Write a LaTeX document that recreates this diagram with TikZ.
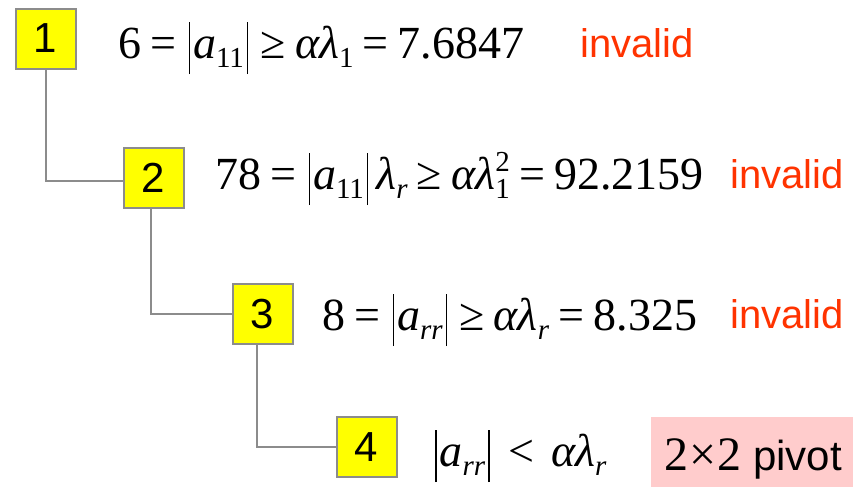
\documentclass[tikz,border=0pt]{standalone}
\usepackage{fontspec}
\setmainfont{Liberation Serif}
\newfontfamily\arialf{Liberation Sans}
\definecolor{boxyellow}{HTML}{FFFF00}
\definecolor{linegray}{HTML}{8C8C8C}
\definecolor{invred}{HTML}{FF3300}
\definecolor{pivotpink}{HTML}{FFCCCC}
\newcommand\mathsz{\fontsize{46}{50}\selectfont}
\newcommand\absb{\kern3pt\vrule width 1.5pt height 36pt depth 16pt\kern3pt}
\newcommand\subs[1]{\raisebox{-9pt}{\fontsize{29}{30}\selectfont #1}}
\newcommand\sups[1]{\raisebox{18pt}{\fontsize{29}{30}\selectfont #1}}
\newcommand\rel[1]{\hspace{0.2em}#1\hspace{0.2em}}
\newcommand\ita[1]{\textit{#1}}
\tikzset{
  stepbox/.style={draw=linegray, line width=2pt, fill=boxyellow, minimum size=60pt,
    inner sep=0pt, font=\arialf\fontsize{42}{44}\selectfont},
  conn/.style={draw=linegray, line width=2pt},
  eqn/.style={anchor=base west, inner sep=0pt, font=\mathsz},
  inv/.style={anchor=base west, inner sep=0pt, text=invred, font=\arialf\fontsize{40}{42}\selectfont},
}
\begin{document}
\begin{tikzpicture}[x=1pt,y=-1pt]
\useasboundingbox (0,0) rectangle (853,488);
\node[stepbox] (b1) at (45.5,38.5) {1};
\node[stepbox] (b2) at (153.5,177.5) {2};
\node[stepbox] (b3) at (262.5,314) {3};
\node[stepbox] (b4) at (366.5,447) {4};
\draw[conn] (b1.south) |- ([yshift=-3pt]b2.west);
\draw[conn] ([xshift=-2.5pt]b2.south) |- (b3.west);
\draw[conn] ([xshift=-5.5pt]b3.south) |- (b4.west);
\node[eqn] (e1) at (118,58) {6\rel{=}\absb\ita{a}\subs{11}\absb\rel{≥}\ita{αλ}\subs{1}\rel{=}7.6847};
\node[eqn] (e2) at (215,189) {78\rel{=}\absb\ita{a}\subs{11}\absb\kern5pt\ita{λ}\subs{\ita{r}}\rel{≥}\ita{αλ}\subs{\smash{\rlap{\raisebox{27pt}{2}}}1}\rel{=}92.2159};
\node[eqn] (e3) at (322,330) {8\rel{=}\absb\ita{a}\subs{\ita{rr}}\absb\rel{≥}\ita{αλ}\subs{\ita{r}}\rel{=}8.325};
\node[eqn] (e4) at (432,466) {\absb\ita{a}\subs{\ita{rr}}\absb\hspace{0.35em}<\hspace{0.35em}\ita{αλ}\subs{\ita{r}}};
\node[inv] (i1) at (580,57) {invalid};
\node[inv] (i2) at (730,188) {invalid};
\node[inv] (i3) at (730,328) {invalid};
\node[fill=pivotpink, minimum width=202pt, minimum height=70pt, inner sep=0pt] (pv) at (752,452) {};
\node[anchor=base west, inner sep=0pt, font=\fontsize{48}{50}\selectfont] (pt) at (664,470) {2\kern1pt×\kern1pt2 {\arialf\fontsize{42}{44}\selectfont pivot}};
\end{tikzpicture}
\end{document}
